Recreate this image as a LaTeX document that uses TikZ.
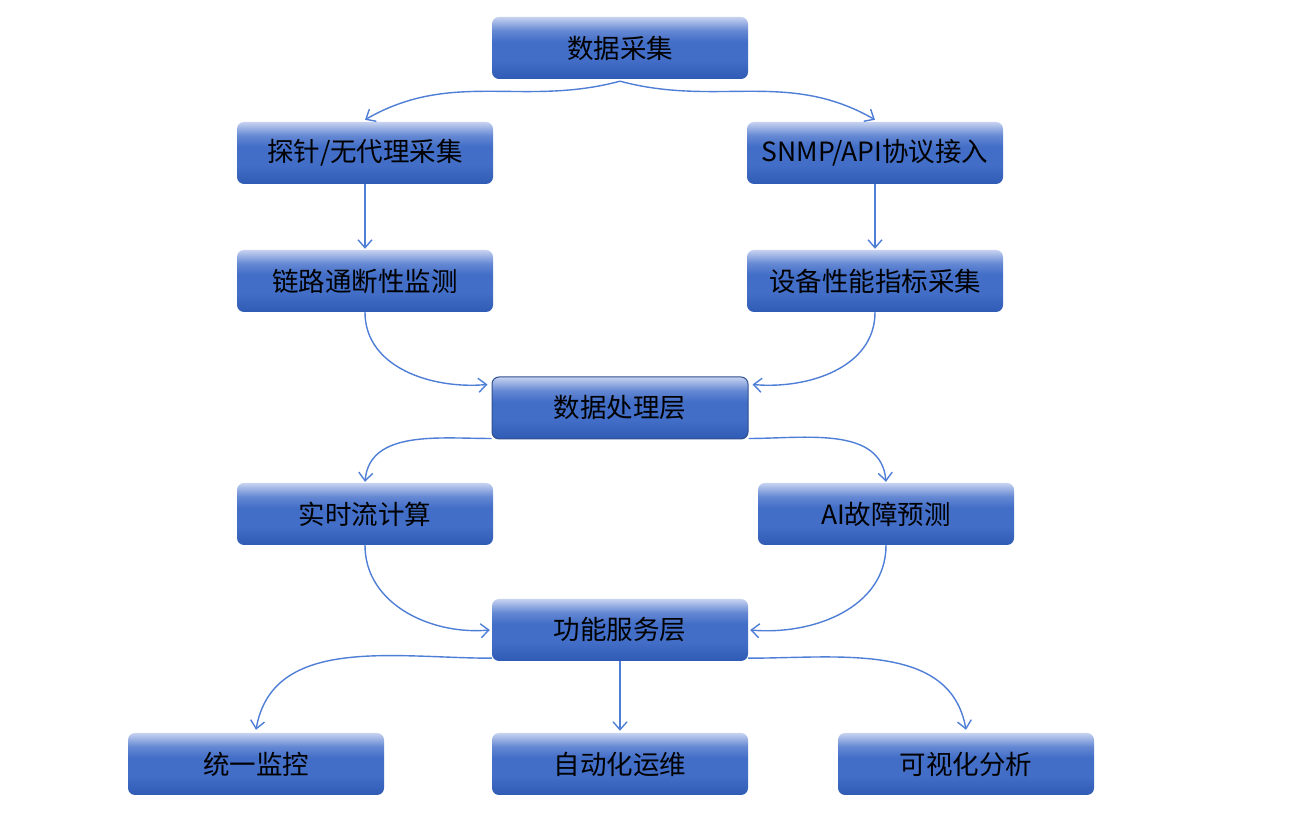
\documentclass[tikz,border=0pt]{standalone}
\usepackage{fontspec}
\setmainfont{Noto Sans CJK SC}
\usetikzlibrary{arrows.meta}
\definecolor{sb1}{HTML}{C6D2F0}
\definecolor{sb2}{HTML}{6488D3}
\definecolor{sb3}{HTML}{426EC7}
\definecolor{sb4}{HTML}{2F5BB4}
\definecolor{linkc}{HTML}{4F7ED6}
\definecolor{bordc}{HTML}{2F4F8F}
\pgfdeclareverticalshading{boxshade}{100bp}{color(0bp)=(sb4); color(25bp)=(sb4); color(40bp)=(sb3); color(55bp)=(sb3); color(64bp)=(sb2); color(75bp)=(sb1); color(100bp)=(sb1)}
\tikzset{
  box/.style={rectangle, rounded corners=7pt, minimum width=256pt, minimum height=62pt,
    inner sep=0pt, shading=boxshade, draw=none, font=\fontsize{26.5}{30}\selectfont, text=black},
  boldbox/.style={box, draw=bordc, line width=1pt},
  link/.style={draw=linkc, line width=1.4pt, -{Straight Barb[length=8pt,width=14pt]}}
}
\begin{document}
\begin{tikzpicture}[x=1pt,y=1pt]
\useasboundingbox (0,0) rectangle (1292,826);
\node[box] (n1) at (620,778) {数据采集};
\node[box] (n2) at (365,673) {探针/无代理采集};
\node[box] (n3) at (875,673) {SNMP/API协议接入};
\node[box] (n4) at (365,545) {链路通断性监测};
\node[box] (n5) at (875,545) {设备性能指标采集};
\node[boldbox] (n6) at (620,418) {数据处理层};
\node[box] (n7) at (365,312) {实时流计算};
\node[box] (n8) at (886,312) {AI故障预测};
\node[box] (n9) at (620,196) {功能服务层};
\node[box] (n10) at (256,62) {统一监控};
\node[box] (n11) at (620,62) {自动化运维};
\node[box] (n12) at (966,62) {可视化分析};

\draw[link] ([yshift=-2pt]n1.south) to[out=195,in=30] ([yshift=2pt]n2.north);
\draw[link] ([yshift=-2pt]n1.south) to[out=-15,in=150] ([yshift=2pt]n3.north);
\draw[link] (n2.south) -- ([yshift=1pt]n4.north);
\draw[link] (n3.south) -- ([yshift=1pt]n5.north);
\draw[link] (n4.south) to[out=-90,in=185] ([xshift=-4pt,yshift=-8pt]n6.north west);
\draw[link] (n5.south) to[out=-90,in=-5] ([xshift=4pt,yshift=-8pt]n6.north east);
\draw[link] ([yshift=1pt]n6.south west) to[out=180,in=85] ([yshift=1pt]n7.north);
\draw[link] ([yshift=1pt]n6.south east) to[out=0,in=95] ([yshift=1pt]n8.north);
\draw[link] (n7.south) to[out=-90,in=185] ([xshift=-2pt]n9.west);
\draw[link] (n8.south) to[out=-90,in=-5] ([xshift=2pt]n9.east);
\draw[link] ([yshift=3pt]n9.south west) to[out=180,in=80] ([yshift=3pt]n10.north);
\draw[link] (n9.south) -- ([yshift=2pt]n11.north);
\draw[link] ([yshift=3pt]n9.south east) to[out=0,in=100] ([yshift=3pt]n12.north);
\end{tikzpicture}
\end{document}
